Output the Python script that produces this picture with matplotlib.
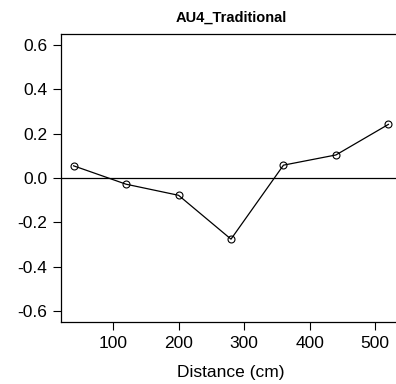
import matplotlib
matplotlib.use("Agg")
import matplotlib.pyplot as plt

plt.rcParams['font.family'] = ['Liberation Sans', 'DejaVu Sans']

# correlation by distance
distance = [40, 120, 200, 280, 360, 440, 520]
corr = [0.055, -0.028, -0.078, -0.276, 0.058, 0.104, 0.242]
yticks = [-0.6, -0.4, -0.2, 0.0, 0.2, 0.4, 0.6]
xticks = [100, 200, 300, 400, 500]

fig = plt.figure(figsize=(3.96, 3.84), dpi=100)
# axes runs slightly past the right edge, like the cropped original
ax = fig.add_axes([61 / 396, (384 - 322) / 384, (401 - 61) / 396, (322 - 34) / 384])

ax.axhline(0, color='black', lw=0.9)
ax.plot(distance, corr, color='black', lw=0.9, marker='o', ms=5,
        mfc='none', mec='black', mew=0.8)

ax.set_xlim(20.8, 539.2)
ax.set_ylim(-0.65, 0.65)
ax.set_xticks(xticks)
ax.set_yticks(yticks)
ax.set_yticklabels(['{:.1f}'.format(v) for v in yticks])
ax.tick_params(direction='out', length=5.5, width=0.8, labelsize=12.5, pad=4.5)
for s in ax.spines.values():
    s.set_linewidth(0.9)

ax.set_xlabel('Distance (cm)', fontsize=12.5, labelpad=10)
fig.text(231 / 396, 1 - 18 / 384, 'AU4_Traditional',
         ha='center', va='center', fontsize=10.5, fontweight='bold')

fig.savefig('out.png', dpi=100)
